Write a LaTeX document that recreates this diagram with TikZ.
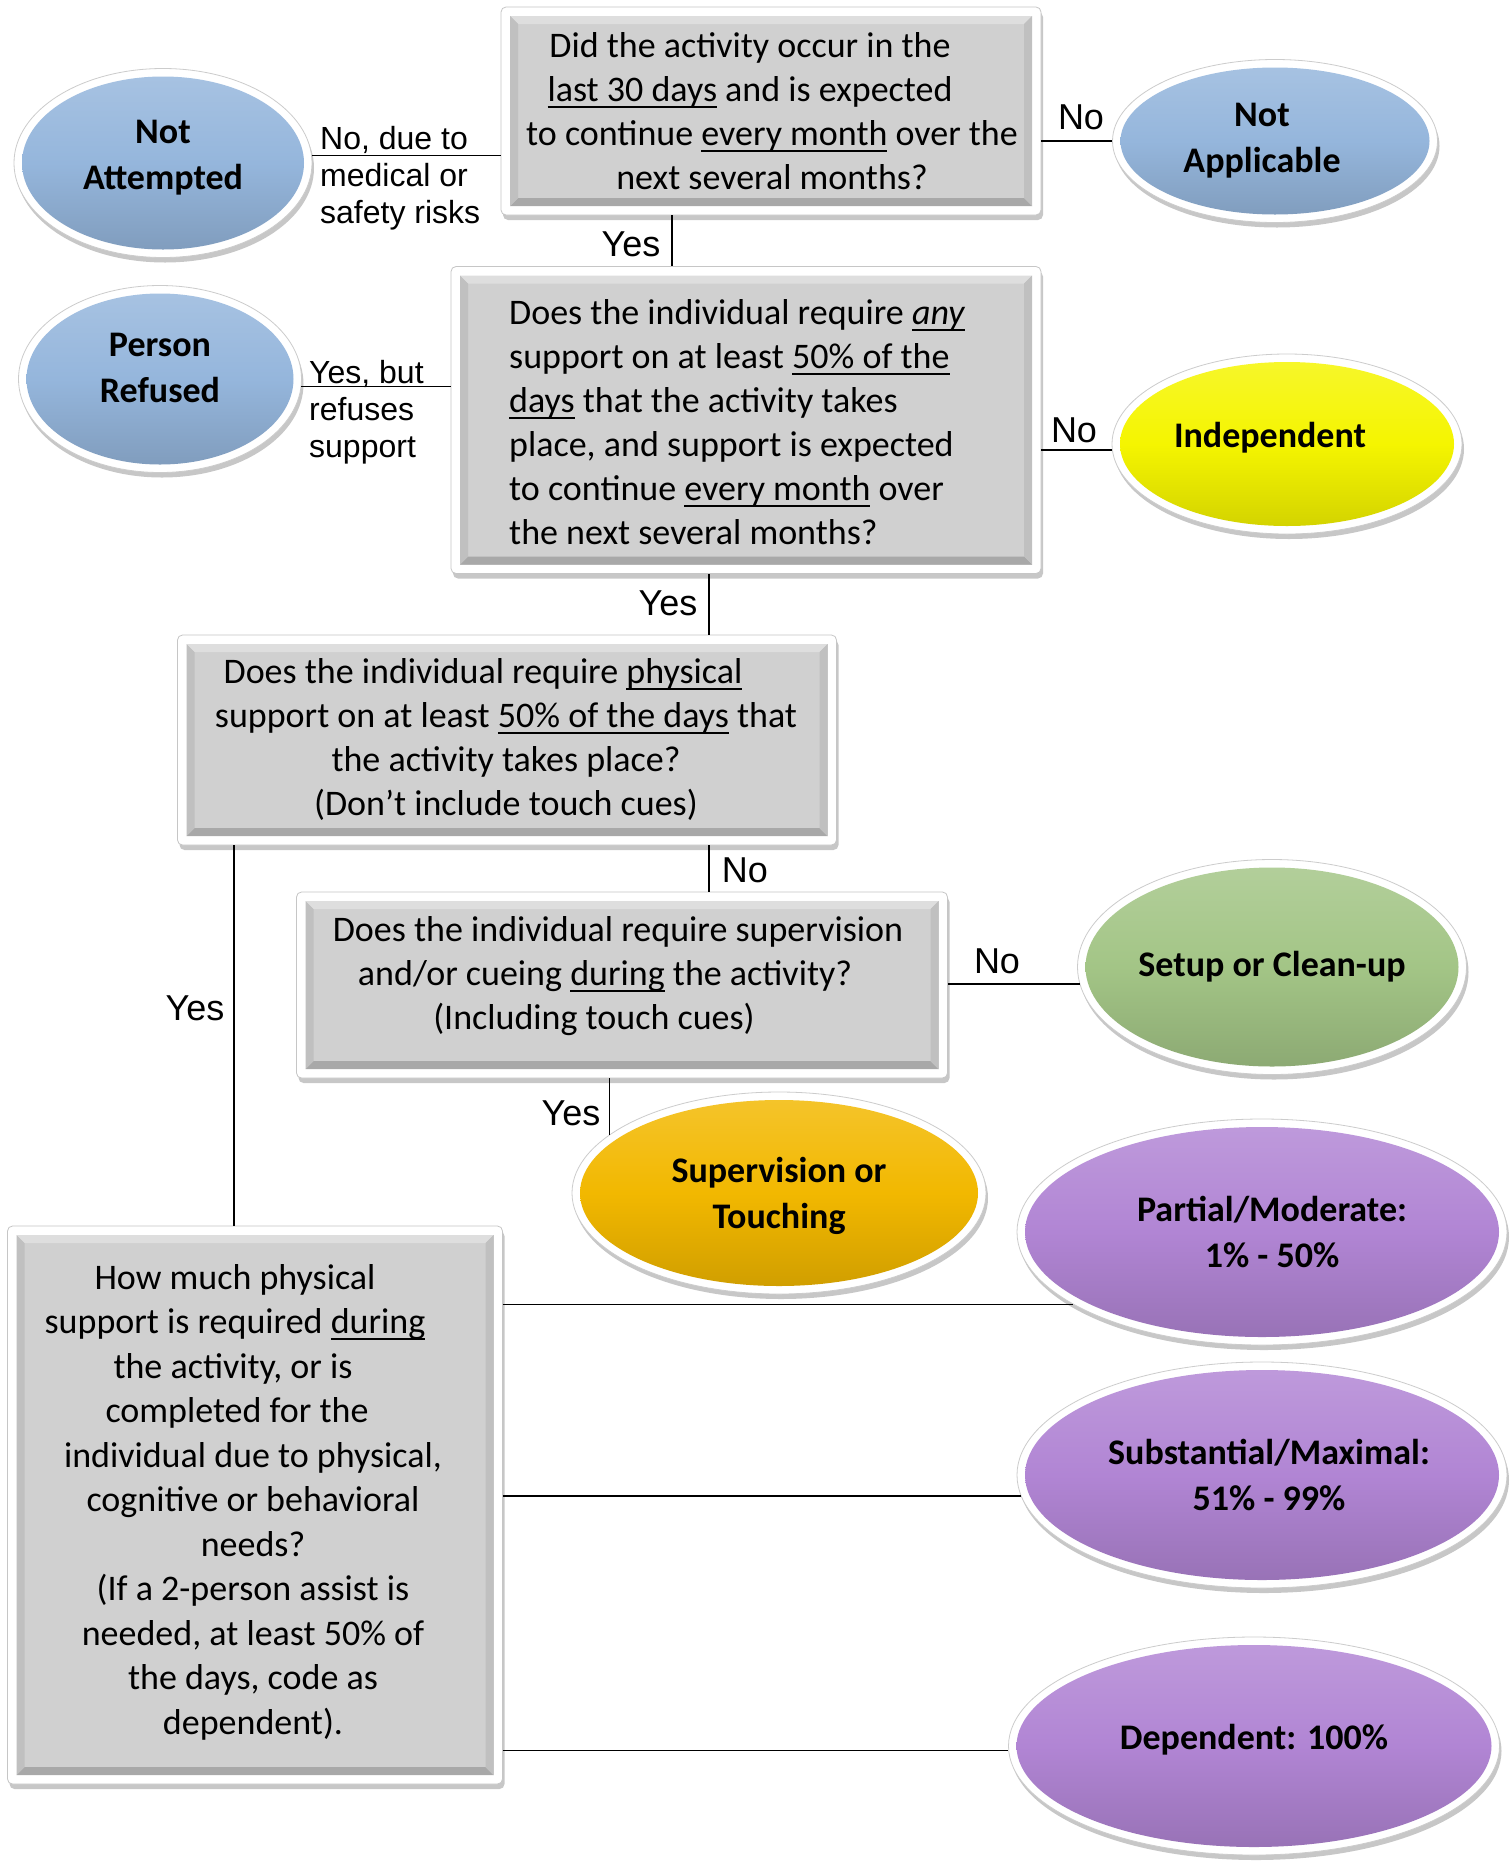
\documentclass[tikz,border=0pt]{standalone}
\usepackage{fontspec}
\setmainfont{Carlito}
\newfontfamily\arialf{Liberation Sans}
\newsavebox\myulbox
\newcommand\myul[1]{\leavevmode\sbox\myulbox{#1}\rlap{\rule[-6.5pt]{\wd\myulbox}{2pt}}\usebox\myulbox}
\usetikzlibrary{shapes.geometric,shadows,calc}
\definecolor{blueE}{HTML}{95B6DC}
\definecolor{yellowE}{HTML}{F5F500}
\definecolor{orangeE}{HTML}{F2B800}
\definecolor{greenE}{HTML}{A3C586}
\definecolor{purpleE}{HTML}{B185D4}
\definecolor{bxgray}{HTML}{D0D0D0}
\definecolor{bxtop}{HTML}{DEDEDE}
\definecolor{bxbot}{HTML}{A8A8A8}
\definecolor{bxside}{HTML}{C0C0C0}
\newcommand\myqfont{\fontsize{36}{44}\selectfont}
\newcommand\myefont{\fontsize{36}{46}\selectfont\bfseries}
\begin{document}
\begin{tikzpicture}[x=1pt,y=-1pt,
  qbox/.style={rectangle, rounded corners=5pt, draw=gray!45, line width=0.8pt, fill=white, inner sep=0pt,
    drop shadow={shadow xshift=2pt, shadow yshift=-5pt, opacity=0.22, fill=black},
    path picture={
      \coordinate (pNW) at ([shift={(9pt,-9pt)}]path picture bounding box.north west);
      \coordinate (pNE) at ([shift={(-9pt,-9pt)}]path picture bounding box.north east);
      \coordinate (pSW) at ([shift={(9pt,9pt)}]path picture bounding box.south west);
      \coordinate (pSE) at ([shift={(-9pt,9pt)}]path picture bounding box.south east);
      \fill[sharp corners, bxgray] (pNW) rectangle (pSE);
      \fill[sharp corners, bxtop] (pNW) -- (pNE) -- ([shift={(-8pt,-8pt)}]pNE) -- ([shift={(8pt,-8pt)}]pNW) -- cycle;
      \fill[sharp corners, bxbot] (pSW) -- (pSE) -- ([shift={(-8pt,8pt)}]pSE) -- ([shift={(8pt,8pt)}]pSW) -- cycle;
      \fill[sharp corners, bxside] (pNW) -- ([shift={(8pt,-8pt)}]pNW) -- ([shift={(8pt,8pt)}]pSW) -- (pSW) -- cycle;
      \fill[sharp corners, bxside] (pNE) -- ([shift={(-8pt,-8pt)}]pNE) -- ([shift={(-8pt,8pt)}]pSE) -- (pSE) -- cycle;
    }},
  qtext/.style={font=\myqfont, align=center, inner sep=0pt},
  ell/.style={ellipse, inner sep=0pt, draw=gray!40, line width=0.8pt, fill=white, align=center, font=\myefont,
    drop shadow={shadow xshift=2pt, shadow yshift=-5pt, opacity=0.22, fill=black},
    path picture={
      \path[shade, top color=#1!82!white, bottom color=#1!85!black, middle color=#1]
        let \p1=(path picture bounding box.north east), \p2=(path picture bounding box.south west) in
        (path picture bounding box.center) ellipse [x radius={(\x1-\x2)/2-8pt}, y radius={(\y1-\y2)/2-8pt}];
    }},
  lab/.style={font=\arialf\fontsize{36}{40}\selectfont, inner sep=0pt},
  sidelab/.style={font=\arialf\fontsize{32}{37}\selectfont, align=left, inner sep=0pt, anchor=west},
  conn/.style={draw=black, line width=1.4pt}
]
\fill[white, use as bounding box] (0,0) rectangle (1512,1861);

% question boxes
\node[qbox, minimum width=540pt, minimum height=208pt] (q1) at (771,111) {};
\node[qtext] (q1t) at (772,111) {Did the activity occur in the\rule{44pt}{0pt}\\ \myul{last 30 days} and is expected\rule{44pt}{0pt}\\ to continue \myul{every month} over the\\ next several months?};

\node[qbox, minimum width=590pt, minimum height=307pt] (q2) at (746,420) {};
\node[qtext, align=left, anchor=west] (q2t) at (509,422) {Does the individual require \myul{\textit{any}}\\ support on at least \myul{50\% of the}\\ \myul{days} that the activity takes\\ place, and support is expected\\ to continue \myul{every month} over\\ the next several months?};

\node[qbox, minimum width=659pt, minimum height=210pt] (q3) at (507,740) {};
\node[qtext] (q3t) at (506,739) {Does the individual require \myul{physical}\rule{46pt}{0pt}\\ support on at least \myul{50\% of the days} that\\ the activity takes place?\\ (Don’t include touch cues)};

\node[qbox, minimum width=651pt, minimum height=186pt] (q4) at (622,985) {};
\node[qtext] (q4t) at (618,976) {Does the individual require supervision\\ and/or cueing \myul{during} the activity?\rule{26pt}{0pt}\\ (Including touch cues)\rule{48pt}{0pt}};

\node[qbox, minimum width=495pt, minimum height=558pt] (q5) at (255,1505) {};
\node[qtext, font=\fontsize{36}{44.5}\selectfont] (q5t) at (253,1502) {How much physical\rule{36pt}{0pt}\\ support is required \myul{during}\rule{36pt}{0pt}\\ the activity, or is\rule{40pt}{0pt}\\ completed for the\rule{32pt}{0pt}\\ individual due to physical,\\ cognitive or behavioral\\ needs?\\ (If a 2-person assist is\\ needed, at least 50\% of\\ the days, code as\\ dependent).};

% outcome ellipses
\node[ell=blueE, minimum width=298pt, minimum height=189pt, text depth=16pt] (na) at (163,163) {Not\\Attempted};
\node[ell=blueE, minimum width=325pt, minimum height=163pt] (napp) at (1275,141) {Not\rule{26pt}{0pt}\\Applicable\rule{26pt}{0pt}};
\node[ell=blueE, minimum width=283pt, minimum height=187pt, text depth=22pt] (pr) at (160,379) {Person\\Refused};
\node[ell=yellowE, minimum width=350pt, minimum height=180pt, text depth=18pt] (ind) at (1287,444) {Independent\rule{34pt}{0pt}};
\node[ell=greenE, minimum width=389pt, minimum height=215pt] (setc) at (1272,967) {Setup or Clean-up};
\node[ell=orangeE, minimum width=414pt, minimum height=202pt, text depth=0pt] (sup) at (779,1193) {Supervision or\\Touching};
\node[ell=purpleE, minimum width=490pt, minimum height=226pt] (part) at (1262,1232) {\rule{20pt}{0pt}Partial/Moderate:\\\rule{20pt}{0pt}1\% - 50\%};
\node[ell=purpleE, minimum width=490pt, minimum height=226pt] (sub) at (1262,1475) {\rule{14pt}{0pt}Substantial/Maximal:\\\rule{14pt}{0pt}51\% - 99\%};
\node[ell=purpleE, minimum width=491pt, minimum height=218pt, text depth=18pt] (dep) at (1254,1746) {Dependent: 100\%};

% helper x positions
\coordinate (c1) at (672,0);
\coordinate (c2) at (709,0);
\coordinate (c3) at (234,0);

% connectors
\draw[conn] (na.3) -- (q1.west |- na.3);
\draw[conn] (q1.east |- napp.west) -- (napp.west);
\draw[conn] (q1.south -| c1) -- (q2.north -| c1);
\draw[conn] (pr.-3) -- (q2.west |- pr.-3);
\draw[conn] (q2.east |- ind.182) -- (ind.182);
\draw[conn] (q2.south -| c2) -- (q3.north -| c2);
\draw[conn] (q3.south -| c2) -- (q4.north -| c2);
\draw[conn] (q4.east |- setc.185) -- (setc.185);
\draw[conn] (sup.161 |- q4.south) -- (sup.161);
\draw[conn] (q3.south -| c3) -- (q5.north -| c3);
\draw[conn] (q5.east |- part.201) -- (part.201);
\draw[conn] (q5.east |- sub.185) -- (sub.185);
\draw[conn] (q5.east |- dep.181) -- (dep.181);

% labels
\node[sidelab] (l1) at (320,178) {No, due to\\medical or\\safety risks};
\node[lab] (l2) at (1081,117) {No};
\node[lab] (l3) at (631,244) {Yes};
\node[sidelab] (l4) at (309,412) {Yes, but\\refuses\\support};
\node[lab] (l5) at (1074,430) {No};
\node[lab] (l6) at (668,603) {Yes};
\node[lab] (l7) at (745,870) {No};
\node[lab] (l8) at (997,961) {No};
\node[lab] (l9) at (571,1113) {Yes};
\node[lab] (l10) at (195,1008) {Yes};
\end{tikzpicture}
\end{document}
